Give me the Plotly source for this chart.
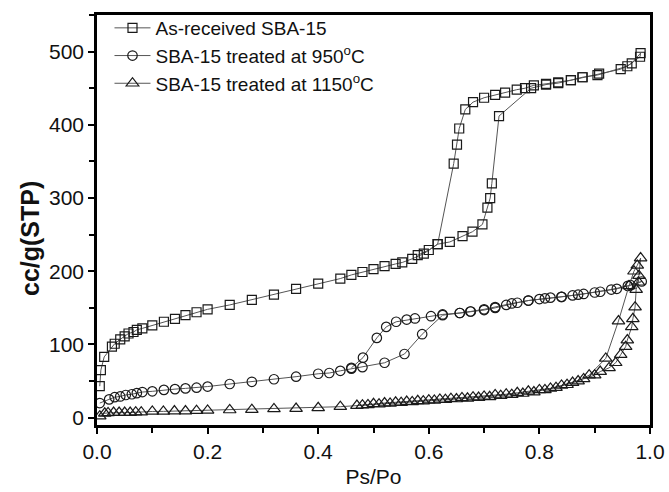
import plotly.graph_objects as go

# As-received SBA-15 (adsorption then desorption)
sq_x = [0.005, 0.007, 0.013, 0.027, 0.032, 0.042, 0.050, 0.057, 0.066, 0.072, 0.082,
        0.10, 0.121, 0.141, 0.16, 0.18, 0.20, 0.24, 0.28, 0.32, 0.36, 0.40, 0.44, 0.46,
        0.48, 0.50, 0.52, 0.54, 0.552, 0.570, 0.591, 0.616, 0.638, 0.661, 0.679, 0.697,
        0.706, 0.711, 0.714, 0.727, 0.785, 0.812, 0.834, 0.857, 0.878, 0.908, 0.947,
        0.967, 0.983,
        0.982, 0.959, 0.905, 0.878, 0.857, 0.834, 0.812, 0.79, 0.774, 0.759, 0.738,
        0.72, 0.70, 0.68, 0.666, 0.655, 0.651, 0.645, 0.616, 0.60, 0.58]
sq_y = [43, 65, 83, 97, 101, 107, 111, 115, 117, 120, 122,
        126, 131, 135, 140, 144, 148, 154, 161, 168, 176, 183, 190, 195,
        199, 203, 207, 210, 212, 217, 224, 237, 240, 248, 254, 264,
        287, 300, 320, 412, 450, 455, 457, 461, 465, 470, 476,
        484, 498,
        493, 480, 468, 465, 461, 458, 456, 454, 450, 448, 444,
        441, 437, 431, 421, 395, 373, 347, 237, 229, 222]

# SBA-15 treated at 950 C
ci_x = [0.005, 0.022, 0.032, 0.042, 0.052, 0.063, 0.072, 0.082, 0.10, 0.121, 0.141,
        0.16, 0.18, 0.20, 0.24, 0.28, 0.32, 0.36, 0.40, 0.42, 0.44, 0.46, 0.48, 0.52,
        0.556, 0.588, 0.625, 0.656, 0.676, 0.70, 0.72, 0.74, 0.76, 0.78, 0.80, 0.82,
        0.84, 0.86, 0.88, 0.91, 0.94, 0.965, 0.985,
        0.96, 0.93, 0.90, 0.87, 0.84, 0.81, 0.78, 0.75, 0.72, 0.70, 0.675, 0.656,
        0.625, 0.604, 0.575, 0.56, 0.541, 0.523, 0.506, 0.481, 0.46]
ci_y = [20, 25, 28, 29, 31, 32, 33.5, 35, 36, 38, 39,
        40, 41, 42.5, 46, 49, 52.5, 56, 60, 61, 64, 67, 69, 75,
        87, 114, 140, 143, 145, 147, 150, 154, 157, 160, 162, 164,
        165, 167, 169, 172, 176, 181, 186,
        180, 175, 171, 168, 165, 163, 160, 156, 151, 148, 145, 143,
        141, 138.6, 135.5, 134, 131, 124, 109, 82, 68]

# SBA-15 treated at 1150 C
tr_x = [0.005, 0.014, 0.02, 0.03, 0.04, 0.05, 0.06, 0.07, 0.08, 0.10, 0.12, 0.14,
        0.16, 0.18, 0.20, 0.24, 0.28, 0.32, 0.36, 0.40, 0.44, 0.48, 0.50, 0.52, 0.54,
        0.56, 0.58, 0.60, 0.62, 0.64, 0.66, 0.68, 0.70, 0.72, 0.74, 0.76, 0.78, 0.80,
        0.82, 0.84, 0.86, 0.88, 0.90, 0.91, 0.926, 0.938, 0.947, 0.956, 0.959, 0.967,
        0.969, 0.973, 0.975, 0.979, 0.98, 0.983,
        0.977, 0.971, 0.962, 0.943, 0.92, 0.89, 0.87, 0.85, 0.83, 0.81, 0.79, 0.77,
        0.75, 0.73, 0.71, 0.69, 0.67, 0.65, 0.63, 0.61, 0.59, 0.57, 0.55, 0.53, 0.51,
        0.49, 0.47]
tr_y = [2, 6, 6.5, 7, 7, 7, 7, 7.5, 7.5, 8.5, 8.6, 9,
        9, 9.5, 10, 10.5, 11, 12, 12.5, 13.5, 15, 17, 19, 20, 21,
        22, 23, 24, 25, 26, 27, 28, 29, 31, 32, 34, 36, 38,
        40, 44, 48, 53, 58, 63, 68, 75, 86, 97, 106, 124,
        135, 151, 175, 185, 194, 218,
        208, 200, 180, 132, 81, 58, 50, 45, 41, 38, 35, 33,
        31.5, 30, 28.5, 27.5, 26.5, 25.5, 24.5, 23.5, 22.5, 21.5, 20.5, 19.5, 18.5,
        17.5, 16.5]

x_ticks = [0.0, 0.2, 0.4, 0.6, 0.8, 1.0]
x_labels = ["0.0", "0.2", "0.4", "0.6", "0.8", "1.0"]
y_ticks = [0, 100, 200, 300, 400, 500]
y_labels = ["0", "100", "200", "300", "400", "500"]

names = ["As-received SBA-15", "SBA-15 treated at 950<sup>o</sup>C",
         "SBA-15 treated at 1150<sup>o</sup>C"]
x_title = "Ps/Po"
y_title = "<b>cc/g(STP)</b>"

FONT = "Liberation Sans, Arial"

fig = go.Figure()
series = [(sq_x, sq_y, "square-open", 9), (ci_x, ci_y, "circle-open", 9.5),
          (tr_x, tr_y, "triangle-up-open", 11)]
for (xs, ys, sym, sz), nm in zip(series, names):
    fig.add_trace(go.Scatter(
        x=xs, y=ys, name=nm, mode="lines+markers",
        line=dict(color="#555555", width=1),
        marker=dict(symbol=sym, size=sz, color="#1a1a1a", line=dict(width=1.2, color="#1a1a1a")),
    ))

axis_common = dict(
    showline=True, linecolor="black", linewidth=2.5, mirror=True,
    ticks="outside", ticklen=6, tickwidth=2, tickcolor="black",
    showgrid=False, zeroline=False, automargin=False,
    tickfont=dict(family=FONT, size=21, color="#111"),
)
fig.update_xaxes(range=[0, 1.0], tickvals=x_ticks, ticktext=x_labels,
                 minor=dict(dtick=0.1, ticks="outside", ticklen=5, tickwidth=2, tickcolor="black"),
                 title=dict(text=x_title, font=dict(family=FONT, size=21, color="#111"), standoff=8),
                 **axis_common)
fig.update_yaxes(range=[-10, 550], tickvals=y_ticks, ticktext=y_labels,
                 domain=[0, 1 - 6 / 416],
                 minor=dict(dtick=50, ticks="outside", ticklen=5, tickwidth=2, tickcolor="black"),
                 **axis_common)
# y-axis title placed as a rotated annotation to match its offset position
fig.add_annotation(text=y_title, textangle=-90, xref="paper", yref="paper",
                   x=(30 - 97) / 553, y=(425 - 239) / 416, xanchor="center", yanchor="middle",
                   showarrow=False, font=dict(family=FONT, size=25, color="#111"))
fig.update_layout(
    width=669, height=492,
    margin=dict(l=97, r=19, t=9, b=67),
    plot_bgcolor="white", paper_bgcolor="white",
    legend=dict(x=0.0226, y=1.0, xanchor="left", yanchor="top", itemwidth=36,
                font=dict(family=FONT, size=19, color="#111"),
                bgcolor="rgba(0,0,0,0)", tracegroupgap=0),
)
fig.write_html("out.html", config={"displayModeBar": False},
               post_script="document.body.style.margin='0px';document.body.style.overflow='hidden';")
